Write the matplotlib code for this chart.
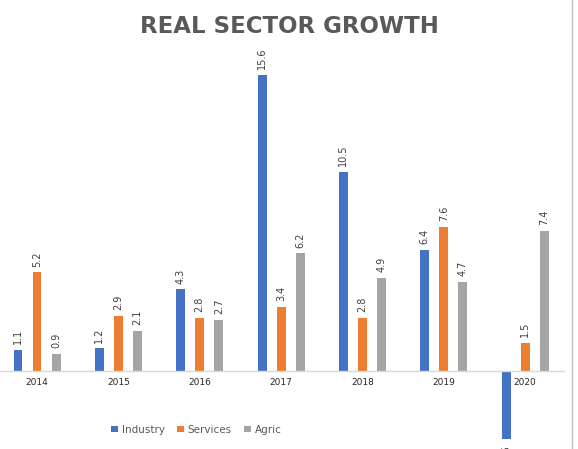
import numpy as np
import matplotlib.pyplot as plt

years = ['2014', '2015', '2016', '2017', '2018', '2019', '2020']
industry = [1.1, 1.2, 4.3, 15.6, 10.5, 6.4, -3.6]
services = [5.2, 2.9, 2.8, 3.4, 2.8, 7.6, 1.5]
agric = [0.9, 2.1, 2.7, 6.2, 4.9, 4.7, 7.4]

colors = ['#4472C4', '#ED7D31', '#A5A5A5']
names = ['Industry', 'Services', 'Agric']

fig = plt.figure(figsize=(5.78, 4.49), dpi=100)
ax = fig.add_axes([0, 0, 565 / 578, 1 - 50 / 449])
x = np.arange(len(years))
w = 0.11
off = 0.234
for i, (vals, c) in enumerate(zip([industry, services, agric], colors)):
    pos = x + (i - 1) * off
    ax.bar(pos, vals, w, color=c, label=names[i])
    for p, v in zip(pos, vals):
        if v >= 0:
            ax.text(p, v + 0.3, f'{v}', rotation=90, ha='center', va='bottom',
                    fontsize=7, color='#404040')
        else:
            # label sits below the figure edge, cut off as in the original
            ax.text(p, v - 0.3, f'{v}', rotation=90, ha='center', va='top',
                    fontsize=7, color='#404040')

for xi, y in zip(x, years):
    ax.text(xi, -0.35, y, ha='center', va='top', fontsize=6.5, color='#262626')

ax.axhline(0, color='#D9D9D9', lw=1)
ax.set_xlim(-0.455, 6.49)
ax.set_ylim(-4.11, 16.92)
ax.axis('off')

fig.text(0.5, 0.94, 'REAL SECTOR GROWTH', ha='center', va='center',
         fontsize=16.5, fontweight='bold', color='#595959',
         family=['Liberation Sans Narrow', 'DejaVu Sans'])
fig.legend(loc='center', bbox_to_anchor=(0.34, 0.043), ncol=3, frameon=False,
           fontsize=7.5, handlelength=0.6, handleheight=0.6, columnspacing=1.2,
           handletextpad=0.4, labelcolor='#595959')
fig.add_artist(plt.Line2D([572 / 578, 572 / 578], [0, 1], color='#BFBFBF', lw=1))
fig.savefig('out.png', dpi=100)
